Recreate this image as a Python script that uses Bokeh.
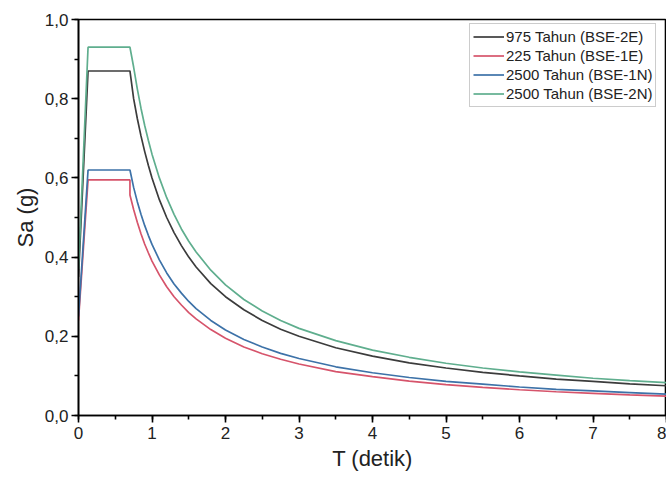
from bokeh.plotting import figure
from bokeh.models import Range1d, CustomJSTickFormatter, SingleIntervalTicker, Legend, LegendItem
from bokeh.embed import file_html
from bokeh.resources import INLINE

# Periods T (detik); the repeated 0.70 marks the small step of the 225-year curve
T = [0.0, 0.13, 0.70, 0.70, 0.75, 0.80, 0.85, 0.90, 0.95, 1.00, 1.10, 1.20, 1.30, 1.40, 1.50,
     1.60, 1.80, 2.00, 2.25, 2.50, 2.75, 3.00, 3.50, 4.00, 4.50, 5.00, 5.50, 6.00, 6.50,
     7.00, 7.50, 8.00]

# Spectral acceleration Sa (g)
sa_975 = [0.35, 0.87, 0.87, 0.87, 0.80, 0.75, 0.706, 0.667, 0.632, 0.600, 0.545, 0.500, 0.462,
          0.429, 0.400, 0.375, 0.333, 0.300, 0.267, 0.240, 0.218, 0.200, 0.171, 0.150, 0.133,
          0.120, 0.109, 0.100, 0.092, 0.086, 0.080, 0.075]
sa_225 = [0.24, 0.595, 0.595, 0.557, 0.520, 0.488, 0.459, 0.433, 0.411, 0.390, 0.355, 0.325,
          0.300, 0.279, 0.260, 0.244, 0.217, 0.195, 0.173, 0.156, 0.142, 0.130, 0.111, 0.098,
          0.087, 0.078, 0.071, 0.065, 0.060, 0.056, 0.052, 0.049]
sa_2500_1n = [0.25, 0.62, 0.62, 0.62, 0.576, 0.540, 0.508, 0.480, 0.455, 0.432, 0.393, 0.360,
              0.332, 0.309, 0.288, 0.270, 0.240, 0.216, 0.192, 0.173, 0.157, 0.144, 0.123,
              0.108, 0.096, 0.086, 0.079, 0.072, 0.066, 0.062, 0.058, 0.054]
sa_2500_2n = [0.37, 0.93, 0.93, 0.93, 0.880, 0.825, 0.776, 0.733, 0.695, 0.660, 0.600, 0.550,
              0.508, 0.471, 0.440, 0.413, 0.367, 0.330, 0.293, 0.264, 0.240, 0.220, 0.189,
              0.165, 0.147, 0.132, 0.120, 0.110, 0.102, 0.094, 0.088, 0.083]

labels = ["975 Tahun (BSE-2E)", "225 Tahun (BSE-1E)", "2500 Tahun (BSE-1N)", "2500 Tahun (BSE-2N)"]
series = [sa_975, sa_225, sa_2500_1n, sa_2500_2n]
colors = ["#3c3c3c", "#d6546b", "#3d72a8", "#5fae8e"]

p = figure(width=666, height=479, output_backend="svg", toolbar_location=None,
           x_range=Range1d(0, 8.0), y_range=Range1d(0, 1.0),
           min_border_left=78, min_border_right=0, min_border_top=19, min_border_bottom=64)

renderers = []
for ys, c in zip(series, colors):
    r = p.line(T, ys, line_color=c, line_width=1.7)
    renderers.append(r)

p.xgrid.visible = False
p.ygrid.visible = False
p.outline_line_color = "black"
p.outline_line_width = 1.6
p.background_fill_color = "white"
p.border_fill_color = "white"

FONT = "Liberation Sans"
for ax in (p.xaxis[0], p.yaxis[0]):
    ax.axis_line_color = "black"
    ax.axis_line_width = 1.6
    ax.major_tick_line_color = "black"
    ax.major_tick_line_width = 1.6
    ax.minor_tick_line_color = "black"
    ax.minor_tick_line_width = 1.6
    ax.major_tick_out = 7
    ax.major_tick_in = 0
    ax.minor_tick_out = 4
    ax.minor_tick_in = 0
    ax.major_label_text_font = FONT
    ax.major_label_text_font_size = "17px"
    ax.major_label_text_color = "#222222"
    ax.axis_label_text_font = FONT
    ax.axis_label_text_font_size = "22px"
    ax.axis_label_text_font_style = "normal"
    ax.axis_label_text_color = "#222222"

p.xaxis.ticker = SingleIntervalTicker(interval=1, num_minor_ticks=2)
p.yaxis.ticker = SingleIntervalTicker(interval=0.2, num_minor_ticks=2)
p.xaxis.formatter = CustomJSTickFormatter(code="return tick.toFixed(0);")
p.yaxis.formatter = CustomJSTickFormatter(code="return tick.toFixed(1).replace('.', ',');")
p.xaxis.axis_label = "T (detik)"
p.yaxis.axis_label = "Sa (g)"
p.xaxis.axis_label_standoff = 4
p.yaxis.axis_label_standoff = 4
p.xaxis.major_label_standoff = 4
p.yaxis.major_label_standoff = 3

legend = Legend(items=[LegendItem(label=l, renderers=[r]) for l, r in zip(labels, renderers)],
                location=(391, 308))
legend.margin = 0
legend.padding = 3
legend.spacing = 0
legend.glyph_width = 31
legend.glyph_height = 19
legend.label_height = 19
legend.label_standoff = 2
legend.label_text_font = FONT
legend.label_text_font_size = "15px"
legend.label_text_color = "#222222"
legend.border_line_color = "#999999"
legend.border_line_width = 1
legend.background_fill_alpha = 1.0
p.add_layout(legend)

open("out.html", "w").write(file_html(p, INLINE))
